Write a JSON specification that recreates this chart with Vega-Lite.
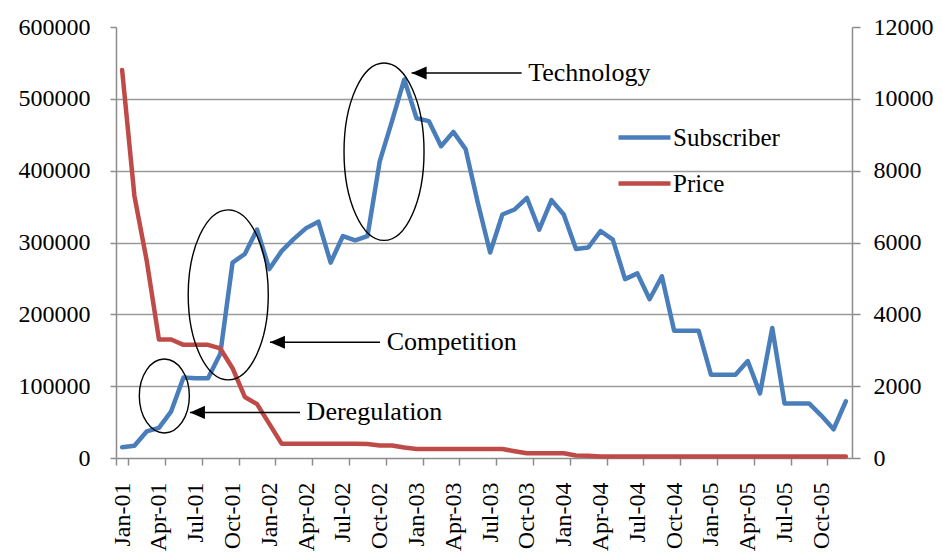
{
  "$schema": "https://vega.github.io/schema/vega-lite/v6.json",
  "width": 736,
  "height": 431,
  "autosize": {"type": "none"},
  "padding": {"left": 116, "top": 27, "right": 91, "bottom": 94},
  "background": "white",
  "config": {
    "view": {"stroke": null},
    "font": "Liberation Serif",
    "axis": {"labelFont": "Liberation Serif", "labelColor": "black", "domainColor": "#8c8c8c", "tickColor": "#8c8c8c", "domainWidth": 1.5, "tickWidth": 1.5, "title": null},
    "legend": {"labelFont": "Liberation Serif", "labelFontSize": 25, "labelColor": "black"}
  },
  "datasets": {
    "series": [
      {"month": "Jan-01", "subscriber": 15000, "price": 10800},
      {"month": "Feb-01", "subscriber": 17000, "price": 7300},
      {"month": "Mar-01", "subscriber": 37000, "price": 5500},
      {"month": "Apr-01", "subscriber": 42000, "price": 3300},
      {"month": "May-01", "subscriber": 65000, "price": 3300},
      {"month": "Jun-01", "subscriber": 112000, "price": 3150},
      {"month": "Jul-01", "subscriber": 111000, "price": 3150},
      {"month": "Aug-01", "subscriber": 111000, "price": 3150},
      {"month": "Sep-01", "subscriber": 145000, "price": 3050},
      {"month": "Oct-01", "subscriber": 272000, "price": 2500},
      {"month": "Nov-01", "subscriber": 284000, "price": 1700},
      {"month": "Dec-01", "subscriber": 318000, "price": 1500},
      {"month": "Jan-02", "subscriber": 263000, "price": 950},
      {"month": "Feb-02", "subscriber": 288000, "price": 400},
      {"month": "Mar-02", "subscriber": 305000, "price": 400},
      {"month": "Apr-02", "subscriber": 320000, "price": 400},
      {"month": "May-02", "subscriber": 329000, "price": 400},
      {"month": "Jun-02", "subscriber": 272000, "price": 400},
      {"month": "Jul-02", "subscriber": 309000, "price": 400},
      {"month": "Aug-02", "subscriber": 303000, "price": 400},
      {"month": "Sep-02", "subscriber": 309000, "price": 390},
      {"month": "Oct-02", "subscriber": 413000, "price": 350},
      {"month": "Nov-02", "subscriber": 469000, "price": 350},
      {"month": "Dec-02", "subscriber": 527000, "price": 290},
      {"month": "Jan-03", "subscriber": 473000, "price": 250},
      {"month": "Feb-03", "subscriber": 469000, "price": 250},
      {"month": "Mar-03", "subscriber": 434000, "price": 250},
      {"month": "Apr-03", "subscriber": 454000, "price": 250},
      {"month": "May-03", "subscriber": 430000, "price": 250},
      {"month": "Jun-03", "subscriber": 355000, "price": 250},
      {"month": "Jul-03", "subscriber": 286000, "price": 250},
      {"month": "Aug-03", "subscriber": 339000, "price": 250},
      {"month": "Sep-03", "subscriber": 346000, "price": 190},
      {"month": "Oct-03", "subscriber": 362000, "price": 130},
      {"month": "Nov-03", "subscriber": 318000, "price": 130},
      {"month": "Dec-03", "subscriber": 359000, "price": 130},
      {"month": "Jan-04", "subscriber": 339000, "price": 130},
      {"month": "Feb-04", "subscriber": 291000, "price": 70},
      {"month": "Mar-04", "subscriber": 293000, "price": 65},
      {"month": "Apr-04", "subscriber": 316000, "price": 40},
      {"month": "May-04", "subscriber": 304000, "price": 40},
      {"month": "Jun-04", "subscriber": 249000, "price": 40},
      {"month": "Jul-04", "subscriber": 257000, "price": 40},
      {"month": "Aug-04", "subscriber": 221000, "price": 40},
      {"month": "Sep-04", "subscriber": 253000, "price": 40},
      {"month": "Oct-04", "subscriber": 177000, "price": 40},
      {"month": "Nov-04", "subscriber": 177000, "price": 40},
      {"month": "Dec-04", "subscriber": 177000, "price": 40},
      {"month": "Jan-05", "subscriber": 116000, "price": 40},
      {"month": "Feb-05", "subscriber": 116000, "price": 40},
      {"month": "Mar-05", "subscriber": 116000, "price": 40},
      {"month": "Apr-05", "subscriber": 135000, "price": 40},
      {"month": "May-05", "subscriber": 90000, "price": 40},
      {"month": "Jun-05", "subscriber": 181000, "price": 40},
      {"month": "Jul-05", "subscriber": 76000, "price": 40},
      {"month": "Aug-05", "subscriber": 76000, "price": 40},
      {"month": "Sep-05", "subscriber": 76000, "price": 40},
      {"month": "Oct-05", "subscriber": 59000, "price": 40},
      {"month": "Nov-05", "subscriber": 40000, "price": 40},
      {"month": "Dec-05", "subscriber": 79000, "price": 40}
    ],
    "notes": [
      {"label": "Deregulation", "ellipse_u": 3.94, "ellipse_v": 86400, "tip_u": 6.03, "end_u": 15.0, "text_u": 15.54, "arrow_v": 63500},
      {"label": "Competition", "ellipse_u": 9.15, "ellipse_v": 227100, "tip_u": 12.55, "end_u": 21.52, "text_u": 22.07, "arrow_v": 161100},
      {"label": "Technology", "ellipse_u": 21.85, "ellipse_v": 426400, "tip_u": 24.1, "end_u": 33.07, "text_u": 33.6, "arrow_v": 535900}
    ]
  },
  "layer": [
    {
      "data": {"name": "series"},
      "mark": {"type": "line", "strokeWidth": 4.5, "strokeJoin": "round", "strokeCap": "round"},
      "encoding": {
        "x": {
          "field": "month", "type": "ordinal", "sort": null,
          "scale": {"type": "band", "paddingInner": 0, "paddingOuter": 0},
          "axis": {
            "values": ["Jan-01","Apr-01","Jul-01","Oct-01","Jan-02","Apr-02","Jul-02","Oct-02","Jan-03","Apr-03","Jul-03","Oct-03","Jan-04","Apr-04","Jul-04","Oct-04","Jan-05","Apr-05","Jul-05","Oct-05"],
            "labelAngle": -90, "labelFontSize": 24, "labelPadding": 17, "tickSize": 7, "tickBand": "extent", "grid": false, "labelOverlap": false
          }
        },
        "y": {
          "field": "subscriber", "type": "quantitative",
          "scale": {"domain": [0, 600000], "nice": false},
          "axis": {
            "orient": "left", "values": [0, 100000, 200000, 300000, 400000, 500000, 600000], "format": "d",
            "labelFontSize": 24, "labelPadding": 20, "tickSize": 6,
            "grid": true, "gridWidth": 1.5,
            "gridColor": {"condition": {"test": "datum.value >= 600000 || datum.value <= 0", "value": "transparent"}, "value": "#9a9a9a"}
          }
        },
        "color": {
          "datum": "Subscriber",
          "scale": {"domain": ["Subscriber", "Price"], "range": ["#4A7EBB", "#BE4B48"]},
          "legend": {"orient": "none", "legendX": 500, "legendY": 82, "direction": "vertical", "title": null, "symbolType": "stroke", "symbolSize": 2704, "symbolStrokeWidth": 4.5, "labelOffset": 0, "rowPadding": 4, "padding": 0}
        }
      }
    },
    {
      "data": {"name": "series"},
      "mark": {"type": "line", "strokeWidth": 4.5, "strokeJoin": "round", "strokeCap": "round"},
      "encoding": {
        "x": {"field": "month", "type": "ordinal", "sort": null, "scale": {"type": "band", "paddingInner": 0, "paddingOuter": 0}, "axis": null},
        "y": {
          "field": "price", "type": "quantitative",
          "scale": {"domain": [0, 12000], "nice": false},
          "axis": {"orient": "right", "values": [0, 2000, 4000, 6000, 8000, 10000, 12000], "format": "d", "labelFontSize": 24, "labelPadding": 13, "tickSize": 8, "grid": false}
        },
        "color": {"datum": "Price"}
      }
    },
    {
      "data": {"name": "notes"},
      "mark": {"type": "point", "filled": false, "stroke": "black", "strokeWidth": 1.4, "opacity": 1},
      "encoding": {
        "x": {"field": "ellipse_u", "type": "quantitative", "scale": {"domain": [0, 60], "nice": false, "zero": false}, "axis": null},
        "y": {"field": "ellipse_v", "type": "quantitative", "scale": {"domain": [0, 600000], "nice": false}, "axis": null},
        "shape": {
          "field": "label", "type": "nominal", "legend": null,
          "scale": {"domain": ["Deregulation", "Competition", "Technology"], "range": [
            "M 0.676 0 C 0.676 0.5523 0.373 1 0 1 C -0.373 1 -0.676 0.5523 -0.676 0 C -0.676 -0.5523 -0.373 -1 0 -1 C 0.373 -1 0.676 -0.5523 0.676 0 Z",
            "M 0.471 0 C 0.471 0.5523 0.26 1 0 1 C -0.26 1 -0.471 0.5523 -0.471 0 C -0.471 -0.5523 -0.26 -1 0 -1 C 0.26 -1 0.471 -0.5523 0.471 0 Z",
            "M 0.451 0 C 0.451 0.5523 0.249 1 0 1 C -0.249 1 -0.451 0.5523 -0.451 0 C -0.451 -0.5523 -0.249 -1 0 -1 C 0.249 -1 0.451 -0.5523 0.451 0 Z"
          ]}
        },
        "size": {
          "field": "label", "type": "nominal", "legend": null,
          "scale": {"type": "ordinal", "domain": ["Deregulation", "Competition", "Technology"], "range": [5476, 28900, 31470]}
        }
      }
    },
    {
      "data": {"name": "notes"},
      "mark": {"type": "rule", "stroke": "black", "strokeWidth": 1.5},
      "encoding": {
        "x": {"field": "tip_u", "type": "quantitative", "scale": {"domain": [0, 60], "nice": false, "zero": false}, "axis": null},
        "x2": {"field": "end_u"},
        "y": {"field": "arrow_v", "type": "quantitative", "scale": {"domain": [0, 600000], "nice": false}, "axis": null}
      }
    },
    {
      "data": {"name": "notes"},
      "mark": {"type": "point", "filled": true, "fill": "black", "stroke": null, "opacity": 1, "size": 225, "shape": "M 0 0 L 2 -0.87 L 2 0.87 Z"},
      "encoding": {
        "x": {"field": "tip_u", "type": "quantitative", "scale": {"domain": [0, 60], "nice": false, "zero": false}, "axis": null},
        "y": {"field": "arrow_v", "type": "quantitative", "scale": {"domain": [0, 600000], "nice": false}, "axis": null}
      }
    },
    {
      "data": {"name": "notes"},
      "mark": {"type": "text", "align": "left", "baseline": "middle", "font": "Liberation Serif", "fontSize": 26, "color": "black"},
      "encoding": {
        "x": {"field": "text_u", "type": "quantitative", "scale": {"domain": [0, 60], "nice": false, "zero": false}, "axis": null},
        "y": {"field": "arrow_v", "type": "quantitative", "scale": {"domain": [0, 600000], "nice": false}, "axis": null},
        "text": {"field": "label"}
      }
    }
  ],
  "resolve": {"scale": {"x": "independent", "y": "independent"}, "axis": {"x": "independent", "y": "independent"}}
}
